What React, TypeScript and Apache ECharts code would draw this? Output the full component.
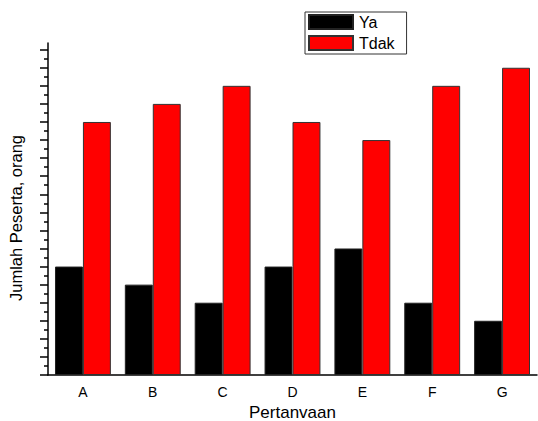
import React, { useEffect, useRef } from "react";
import * as echarts from "echarts";

const categories = ["A", "B", "C", "D", "E", "F", "G"];
const yaValues = [6, 5, 4, 6, 7, 4, 3];
const tdakValues = [14, 15, 16, 14, 13, 16, 17];
const majorTicks = [0, 1, 2, 3, 4, 5, 6, 7, 8, 9, 10, 11, 12, 13, 14, 15, 16, 17, 18];
const minorTicks = majorTicks.slice(0, 18).map((v) => v + 0.5);

const FONT = "Liberation Sans, Arial, sans-serif";

export default function App() {
  const ref = useRef<HTMLDivElement>(null);
  useEffect(() => {
    if (!ref.current) return;
    const chart = echarts.init(ref.current, undefined, { renderer: "svg" });
    const yCommon = {
      type: "value",
      min: 0,
      max: 18.37,
      position: "left",
      splitLine: { show: false },
      axisLabel: { show: false },
    };
    chart.setOption({
      animation: false,
      backgroundColor: "#ffffff",
      textStyle: { fontFamily: FONT },
      grid: { left: 48, right: 1, top: 43, bottom: 46, outerBoundsMode: "none", containLabel: false },
      legend: {
        orient: "vertical",
        left: 305,
        top: 12,
        padding: [2, 12, 3, 3],
        itemWidth: 44,
        itemHeight: 14,
        itemGap: 5,
        borderColor: "#333",
        borderWidth: 1,
        icon: "rect",
        textStyle: { fontSize: 16, color: "#000", fontFamily: FONT, lineHeight: 14, padding: [0, 0, 0, 1] },
        data: ["Ya", "Tdak"],
      },
      xAxis: [
        {
          type: "category",
          data: categories,
          name: "Pertanvaan",
          nameLocation: "middle",
          nameGap: 27,
          nameTextStyle: { fontSize: 17, color: "#000", fontFamily: FONT, lineHeight: 17 },
          axisLine: { lineStyle: { color: "#000", width: 1.5 } },
          axisTick: { alignWithLabel: true, length: 7, lineStyle: { color: "#000", width: 1.5 } },
          axisLabel: { fontSize: 14, color: "#000", margin: 10, fontFamily: FONT },
        },
        {
          type: "category",
          data: categories,
          position: "bottom",
          axisLine: { show: false },
          axisTick: { alignWithLabel: false, length: 4, lineStyle: { color: "#000", width: 1.5 } },
          axisLabel: { show: false },
        },
      ],
      yAxis: [
        {
          ...yCommon,
          name: "Jumlah Peserta, orang",
          nameLocation: "middle",
          nameGap: 24,
          nameTextStyle: { fontSize: 16.5, color: "#000", fontFamily: FONT, padding: [0, 0, 0, -18] },
          axisLine: { show: true, lineStyle: { color: "#000", width: 1.5 } },
          axisTick: { show: true, length: 8, customValues: majorTicks, lineStyle: { color: "#000", width: 1.5 } },
        },
        {
          ...yCommon,
          axisLine: { show: false },
          axisTick: { show: true, length: 4, customValues: minorTicks, lineStyle: { color: "#000", width: 1.5 } },
        },
      ],
      series: [
        {
          name: "Ya",
          type: "bar",
          data: yaValues,
          barGap: "0%",
          barCategoryGap: "20%",
          itemStyle: { color: "#000000", borderColor: "#222", borderWidth: 1 },
        },
        {
          name: "Tdak",
          type: "bar",
          data: tdakValues,
          barGap: "0%",
          barCategoryGap: "20%",
          itemStyle: { color: "#ff0000", borderColor: "#333", borderWidth: 1 },
        },
      ],
    });
    return () => chart.dispose();
  }, []);
  return <div ref={ref} style={{ width: 538, height: 421, position: "absolute", left: 0, top: 0 }} />;
}
